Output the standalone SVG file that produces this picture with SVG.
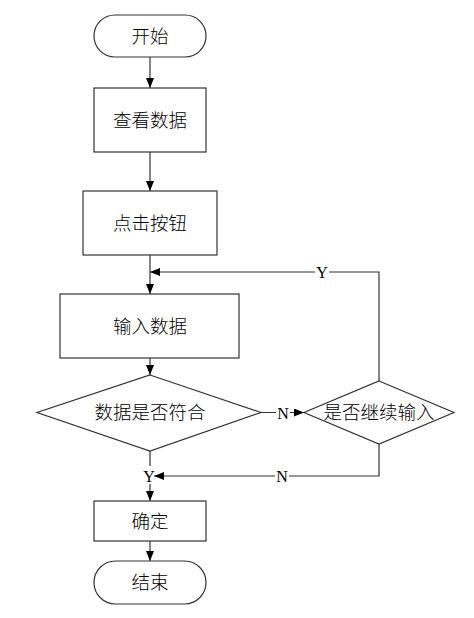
<svg xmlns="http://www.w3.org/2000/svg" width="474" height="618" viewBox="0 0 474 618">
<defs>
<marker id="arr" viewBox="0 0 10 8" refX="10" refY="4" markerWidth="10" markerHeight="8" markerUnits="userSpaceOnUse" orient="auto">
<path d="M0,0 L10,4 L0,8 z" fill="#000"/>
</marker>
</defs>
<style>
.s{fill:#fff;stroke:#333;stroke-width:1.2}
.t{font-family:"Liberation Serif","Noto Sans CJK SC",serif;font-size:18.5px;font-weight:300;fill:#000;text-anchor:middle}
.l{font-family:"Liberation Serif","Noto Sans CJK SC",serif;font-size:16px;fill:#000;text-anchor:middle}
.c{fill:none;stroke:#333;stroke-width:1.2}
</style>
<rect width="474" height="618" fill="#fff"/>
<g id="connectors">
<line class="c" x1="150" y1="57" x2="150" y2="88" marker-end="url(#arr)"/>
<line class="c" x1="150" y1="152" x2="150" y2="191" marker-end="url(#arr)"/>
<line class="c" x1="150" y1="255" x2="150" y2="294" marker-end="url(#arr)"/>
<line class="c" x1="150" y1="358" x2="150" y2="375" marker-end="url(#arr)"/>
<polyline class="c" points="379,381 379,272 150,272" marker-end="url(#arr)"/>
<line class="c" x1="261" y1="412.5" x2="304" y2="412.5" marker-end="url(#arr)"/>
<line class="c" x1="150" y1="451" x2="150" y2="466"/>
<polyline class="c" points="379,444 379,476 154,476" marker-end="url(#arr)"/>
<line class="c" x1="150" y1="484" x2="150" y2="501" marker-end="url(#arr)"/>
<line class="c" x1="150" y1="541" x2="150" y2="561" marker-end="url(#arr)"/>
<rect x="315" y="264" width="14" height="16" fill="#fff"/>
<text class="l" x="322" y="278">Y</text>
<rect x="276" y="405" width="14" height="16" fill="#fff"/>
<text class="l" x="283" y="418.5">N</text>
<rect x="275" y="468" width="14" height="16" fill="#fff"/>
<text class="l" x="282" y="482">N</text>
<text class="l" x="149" y="482">Y</text>
</g>
<g id="start">
<rect class="s" x="94" y="15" width="112" height="42" rx="21" ry="21"/>
<text class="t" x="150" y="42.5">开始</text>
</g>
<g id="view">
<rect class="s" x="94" y="88" width="112" height="64"/>
<text class="t" x="150" y="126.5">查看数据</text>
</g>
<g id="click">
<rect class="s" x="83" y="191" width="134" height="64"/>
<text class="t" x="150" y="229.5">点击按钮</text>
</g>
<g id="input">
<rect class="s" x="60" y="294" width="179" height="64"/>
<text class="t" x="150" y="332.5">输入数据</text>
</g>
<g id="check">
<polygon class="s" points="150,375 261,412.5 150,451 37,412.5"/>
<text class="t" x="150" y="419">数据是否符合</text>
</g>
<g id="continue">
<polygon class="s" points="379,381 454,412.5 379,444 304,412.5"/>
<text class="t" x="379" y="419">是否继续输入</text>
</g>
<g id="confirm">
<rect class="s" x="94" y="501" width="112" height="40"/>
<text class="t" x="150" y="527.5">确定</text>
</g>
<g id="end">
<rect class="s" x="94" y="561" width="112" height="43" rx="21.5" ry="21.5"/>
<text class="t" x="150" y="589">结束</text>
</g>
</svg>
